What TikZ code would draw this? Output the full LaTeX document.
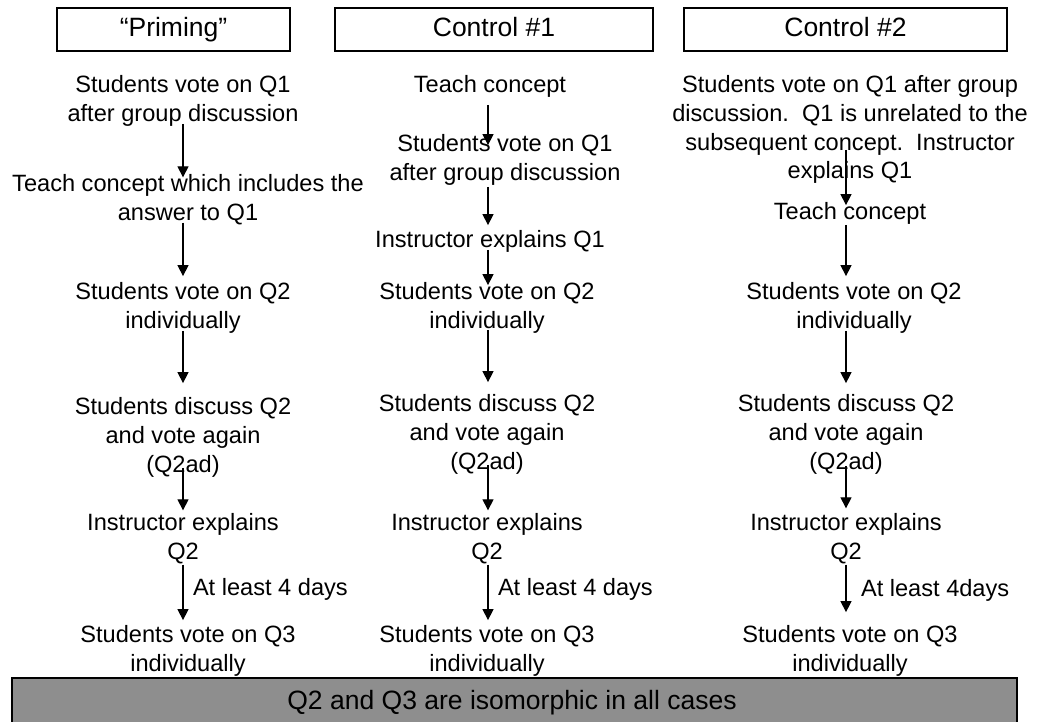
\documentclass[tikz,border=0pt]{standalone}
\usepackage{fontspec}
\setmainfont{Liberation Sans}
\usetikzlibrary{arrows.meta}
\definecolor{bargray}{RGB}{142,142,142}
\frenchspacing
\begin{document}
\begin{tikzpicture}[x=1pt,y=-1pt,
  txt/.style={align=center,inner sep=0pt,outer sep=0pt,font=\fontsize{23.6}{28.8}\selectfont},
  lab/.style={inner sep=0pt,outer sep=0pt,anchor=west,font=\fontsize{23.6}{28.8}\selectfont},
  head/.style={draw,line width=1.3pt,inner sep=0pt,minimum height=43pt,text height=19pt,text depth=5.5pt,font=\fontsize{26.5}{30}\selectfont},
  arr/.style={line width=1.3pt,-{Triangle[length=11pt,width=11pt]}}]
\useasboundingbox (0,0) rectangle (1038,721);
\fill[white] (0,0) rectangle (1038,721);
% bottom bar
\node[draw,line width=1.3pt,fill=bargray,inner sep=0pt,minimum width=1005pt,minimum height=46pt,
  font=\fontsize{26.5}{30}\selectfont] (bar) at (514.5,701) {};
\node[inner sep=0pt,font=\fontsize{26.5}{30}\selectfont] (bartxt) at (512,703) {Q2 and Q3 are isomorphic in all cases};
% column x coordinates
\coordinate (colP) at (183,0);
\coordinate (colA) at (488,0);
\coordinate (colB) at (846,0);
% headers
\node[head,minimum width=233pt] (hP) at (173.5,29.5) {“Priming”};
\node[head,minimum width=318pt] (hA) at (494,29.5) {Control \#1};
\node[head,minimum width=323pt] (hB) at (845.5,29.5) {Control \#2};
% Priming column
\node[txt] (p1) at (183,101) {Students vote on Q1\\after group discussion};
\node[txt] (p2) at (188,199.5) {Teach concept which includes the\\answer to Q1};
\node[txt] (p3) at (183,307.5) {Students vote on Q2\\individually};
\node[txt] (p4) at (183,437.5) {Students discuss Q2\\and vote again\\(Q2ad)};
\node[txt] (p5) at (183,539) {Instructor explains\\Q2};
\node[txt] (p6) at (188,650.5) {Students vote on Q3\\individually};
\node[lab] (lP) at (193,589) {At least 4 days};
% Control 1 column
\node[txt] (c1) at (490,86.5) {Teach concept};
\node[txt] (c2) at (505,159.5) {Students vote on Q1\\after group discussion};
\node[txt] (c3) at (490,241.5) {Instructor explains Q1};
\node[txt] (c4) at (487,307.5) {Students vote on Q2\\individually};
\node[txt] (c5) at (487,434.5) {Students discuss Q2\\and vote again\\(Q2ad)};
\node[txt] (c6) at (487,539) {Instructor explains\\Q2};
\node[txt] (c7) at (487,651) {Students vote on Q3\\individually};
\node[lab] (lA) at (498,589) {At least 4 days};
% Control 2 column
\node[txt] (d1) at (850,129.5) {Students vote on Q1 after group\\discussion.~ Q1 is unrelated to the\\subsequent concept.~ Instructor\\explains Q1};
\node[txt] (d2) at (850,213.5) {Teach concept};
\node[txt] (d3) at (854,307.5) {Students vote on Q2\\individually};
\node[txt] (d4) at (846,434.5) {Students discuss Q2\\and vote again\\(Q2ad)};
\node[txt] (d5) at (846,538.5) {Instructor explains\\Q2};
\node[txt] (d6) at (850,651) {Students vote on Q3\\individually};
\node[lab] (lB) at (861,590) {At least 4days};
% arrows Priming
\draw[arr,shorten <=-2.5pt,shorten >=-3pt] (p1.south -| colP) -- (p2.north -| colP);
\draw[arr,shorten <=-2pt,shorten >=6pt] (p2.south -| colP) -- (p3.north -| colP);
\draw[arr,shorten <=-2pt,shorten >=14.6pt] (p3.south -| colP) -- (p4.north -| colP);
\draw[arr,shorten <=-9.4pt,shorten >=3.5pt] (p4.south -| colP) -- (p5.north -| colP);
\draw[arr,shorten <=0.5pt,shorten >=5pt] (p5.south -| colP) -- (p6.north -| colP);
% arrows Control 1
\draw[arr,shorten <=7.4pt,shorten >=-11pt] (c1.south -| colA) -- (c2.north -| colA);
\draw[arr,shorten <=2pt,shorten >=5.4pt] (c2.south -| colA) -- (c3.north -| colA);
\draw[arr,shorten <=-2.6pt,shorten >=-3pt] (c3.south -| colA) -- (c4.north -| colA);
\draw[arr,shorten <=-3pt,shorten >=12.6pt] (c4.south -| colA) -- (c5.north -| colA);
\draw[arr,shorten <=-9.4pt,shorten >=3.5pt] (c5.south -| colA) -- (c6.north -| colA);
\draw[arr,shorten <=0.5pt,shorten >=5.5pt] (c6.south -| colA) -- (c7.north -| colA);
% arrows Control 2
\draw[arr,shorten <=-33.8pt,shorten >=-2.6pt] (d1.south -| colB) -- (d2.north -| colB);
\draw[arr,shorten <=0.4pt,shorten >=6pt] (d2.south -| colB) -- (d3.north -| colB);
\draw[arr,shorten <=-2pt,shorten >=11.6pt] (d3.south -| colB) -- (d4.north -| colB);
\draw[arr,shorten <=-8.4pt,shorten >=5pt] (d4.south -| colB) -- (d5.north -| colB);
\draw[arr,shorten <=1pt,shorten >=13.5pt] (d5.south -| colB) -- (d6.north -| colB);
\end{tikzpicture}
\end{document}
